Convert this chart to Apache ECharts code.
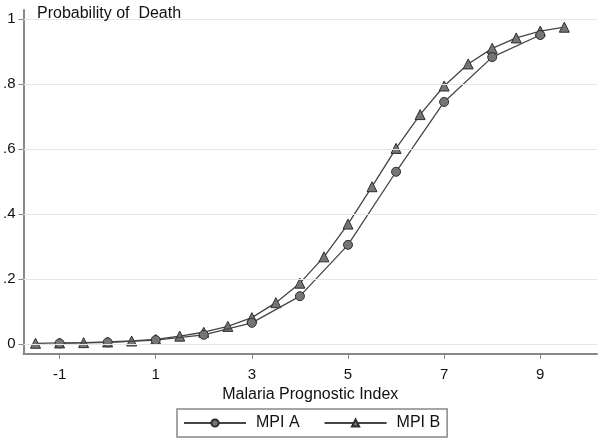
<!DOCTYPE html>
<html><head><meta charset="utf-8">
<script src="https://cdn.jsdelivr.net/npm/echarts@6/dist/echarts.min.js"></script>
<style>html,body{margin:0;padding:0;background:#fff}#c{width:600px;height:439px}</style>
</head><body><div id="c"></div>
<script>
const xA = [-1,0,1,2,3,4,5,6,7,8,9];
const yA = [0.002,0.005,0.012,0.028,0.065,0.147,0.305,0.53,0.745,0.883,0.951];
const xB = [-1.5,-1,-0.5,0,0.5,1,1.5,2,2.5,3,3.5,4,4.5,5,5.5,6,6.5,7,7.5,8,8.5,9,9.5];
const yB = [0.002,0.003,0.004,0.006,0.009,0.014,0.024,0.036,0.054,0.081,0.127,0.187,0.268,0.369,0.484,0.602,0.706,0.794,0.862,0.91,0.942,0.963,0.975];
const xTicks = [-1,1,3,5,7,9];
const yTicks = [0,0.2,0.4,0.6,0.8,1];
const yTickLabels = ['0','.2','.4','.6','.8','1'];
const seriesNames = ['MPI A','MPI B'];

const font = 'Liberation Sans, Arial, sans-serif';
const chart = echarts.init(document.getElementById('c'), null, {renderer:'canvas'});
const lineCol = '#454545';
const mk = {color:'#757575', borderColor:'#2e2e2e', borderWidth:1};
chart.setOption({
  animation:false,
  grid:{left:22, right:3, top:10, bottom:85},
  title:{text:'Probability of  Death', left:32, top:1,
    textStyle:{fontFamily:font, fontSize:16, fontWeight:'normal', color:'#111'}},
  legend:{bottom:2, left:177, itemWidth:62, itemHeight:9, itemGap:24,
    padding:[6,7,6,6], borderColor:'#888', borderWidth:1.5, borderRadius:0,
    textStyle:{fontFamily:font, fontSize:16, color:'#111', padding:[0,0,0,5]},
    data:seriesNames},
  xAxis:{type:'value', min:-1.75, max:10.18,
    name:'Malaria Prognostic Index', nameLocation:'middle', nameGap:28,
    nameTextStyle:{fontFamily:font, fontSize:16, color:'#111'},
    axisLine:{show:true, onZero:false, lineStyle:{color:'#888', width:2}},
    axisTick:{show:true, length:5, lineStyle:{color:'#888'}, customValues:xTicks},
    axisLabel:{customValues:xTicks, fontFamily:font, fontSize:15, color:'#111', margin:13},
    splitLine:{show:false}},
  yAxis:{type:'value', min:-0.031, max:1.028,
    axisLine:{show:true, onZero:false, lineStyle:{color:'#888', width:2}},
    axisTick:{show:true, length:5, lineStyle:{color:'#888'}, customValues:yTicks},
    axisLabel:{customValues:yTicks, formatter:v=>yTickLabels[yTicks.findIndex(t=>Math.abs(t-v)<1e-6)] ?? '',
      fontFamily:font, fontSize:15, color:'#111', margin:8},
    splitLine:{show:false}},
  series:[
    {name:seriesNames[1], type:'line', z:2, data:xB.map((x,i)=>[x,yB[i]]),
      symbol:'triangle', symbolSize:10, showAllSymbol:true,
      lineStyle:{color:lineCol, width:1.3}, itemStyle:mk,
      markLine:{silent:true, symbol:'none', label:{show:false},
        lineStyle:{color:'#e6e6e6', type:'solid', width:1.2},
        data:yTicks.map(v=>({yAxis:v}))}},
    {name:seriesNames[0], type:'line', z:3, data:xA.map((x,i)=>[x,yA[i]]),
      symbol:'circle', symbolSize:9, showAllSymbol:true,
      lineStyle:{color:lineCol, width:1.3}, itemStyle:mk}
  ]
});
</script></body></html>
